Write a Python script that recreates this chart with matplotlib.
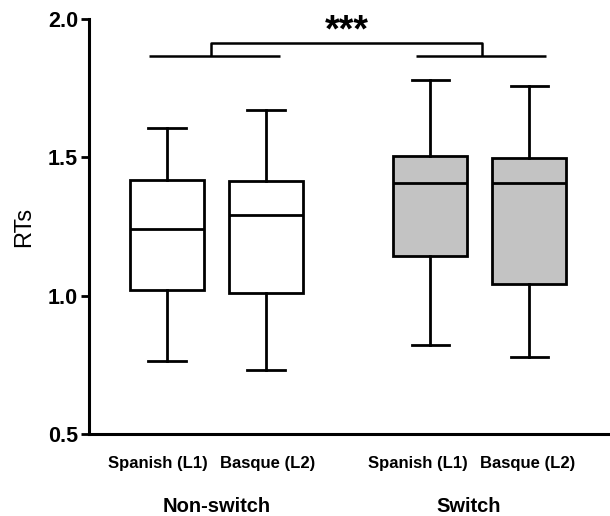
import matplotlib
matplotlib.use("Agg")
import matplotlib.pyplot as plt

plt.rcParams['font.family'] = ['Liberation Sans', 'DejaVu Sans']

# data
tick_labels = ["Spanish (L1)", "Basque (L2)", "Spanish (L1)", "Basque (L2)"]
groups = ["Non-switch", "Switch"]
positions = [1.0, 2.0, 3.66, 4.66]
whislo = [0.765, 0.73, 0.82, 0.78]
q1 = [1.02, 1.01, 1.145, 1.042]
med = [1.24, 1.29, 1.407, 1.407]
q3 = [1.418, 1.415, 1.504, 1.497]
whishi = [1.607, 1.67, 1.778, 1.757]
fills = ["white", "white", "#c3c3c3", "#c3c3c3"]

fig = plt.figure(figsize=(6.10, 5.16), dpi=100)
ax = fig.add_axes([89/610, 82/516, 1 - 89/610, (434 - 19)/516])

stats = []
for i in range(4):
    stats.append(dict(whislo=whislo[i], q1=q1[i], med=med[i], q3=q3[i],
                      whishi=whishi[i], fliers=[], label=tick_labels[i]))

lw = 2.0
bp = ax.bxp(stats, positions=positions, widths=0.75, patch_artist=True,
            showfliers=False,
            boxprops=dict(linewidth=lw, edgecolor='black'),
            medianprops=dict(linewidth=lw, color='black'),
            whiskerprops=dict(linewidth=lw, color='black'),
            capprops=dict(linewidth=lw, color='black'),
            capwidths=0.38)
for patch, fc in zip(bp['boxes'], fills):
    patch.set_facecolor(fc)

ax.set_xlim(0.212, 5.475)
ax.set_ylim(0.5, 2.0)
ax.set_yticks([0.5, 1.0, 1.5, 2.0])
ax.set_yticklabels(["0.5", "1.0", "1.5", "2.0"], fontsize=15.5, fontweight='bold')
ax.tick_params(axis='y', length=6, width=2, pad=2)

label_pos = [0.91, 2.02, 3.53, 4.64]
ax.set_xticks(label_pos)
ax.set_xticklabels(tick_labels, fontsize=12, fontweight='bold')
ax.tick_params(axis='x', length=0, pad=16)

for s in ['top', 'right']:
    ax.spines[s].set_visible(False)
for s in ['left', 'bottom']:
    ax.spines[s].set_linewidth(2.2)

ax.set_ylabel("RTs", fontsize=17, labelpad=9)

# group labels
trans = ax.get_xaxis_transform()
ax.text(1.505, -0.175, groups[0], transform=trans, ha='center', va='center',
        fontsize=14.5, fontweight='bold')
ax.text(4.05, -0.175, groups[1], transform=trans, ha='center', va='center',
        fontsize=14.5, fontweight='bold')

# significance annotation
yline = 1.865
ybr = 1.915
kw = dict(color='black', linewidth=1.8, solid_capstyle='butt')
ax.plot([0.818, 2.141], [yline, yline], **kw)
ax.plot([3.515, 4.828], [yline, yline], **kw)
ax.plot([1.444, 1.444, 4.18, 4.18], [yline, ybr, ybr, yline], **kw)
ax.text((1.444 + 4.18) / 2, 1.89, "***", ha='center', va='bottom',
        fontsize=27, fontweight='bold')

fig.savefig("out.png", dpi=100)
